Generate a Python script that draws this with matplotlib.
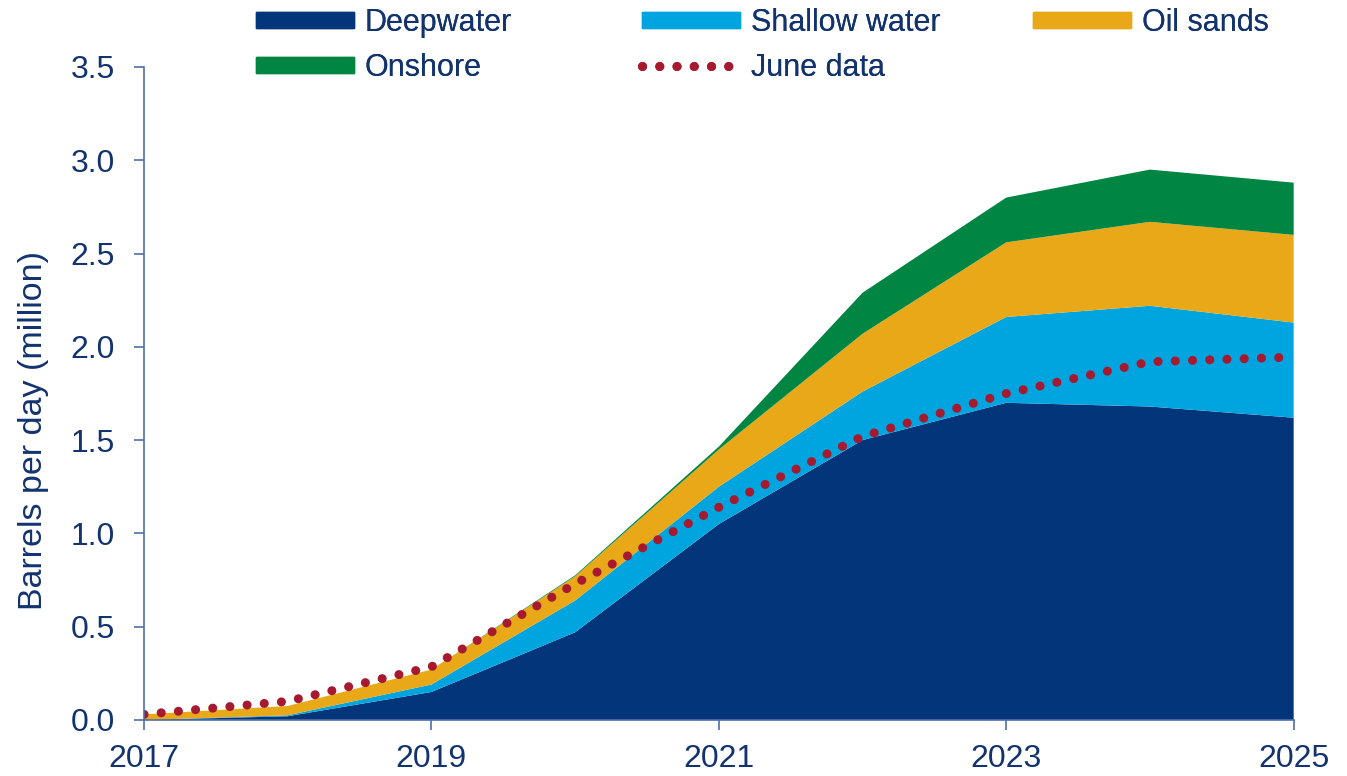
import numpy as np
import matplotlib.pyplot as plt
from matplotlib.patches import Patch
from matplotlib.lines import Line2D

plt.rcParams['font.family'] = ['Liberation Sans', 'DejaVu Sans']

years = [2017, 2018, 2019, 2020, 2021, 2022, 2023, 2024, 2025]
deepwater = [0.0, 0.02, 0.15, 0.47, 1.05, 1.50, 1.70, 1.68, 1.62]
shallow_water = [0.0, 0.005, 0.04, 0.17, 0.20, 0.26, 0.46, 0.54, 0.51]
oil_sands = [0.03, 0.05, 0.08, 0.13, 0.20, 0.31, 0.40, 0.45, 0.47]
onshore = [0.0, 0.0, 0.0, 0.005, 0.015, 0.22, 0.24, 0.28, 0.28]
june_data = [0.03, 0.10, 0.285, 0.73, 1.14, 1.52, 1.75, 1.92, 1.945]

navy = '#03357a'
sky = '#00a5e0'
gold = '#e8a817'
green = '#008542'
red = '#a6192e'
text_col = '#12336e'
axis_col = '#4f6ea8'
dots = (0, (0.01, 1.9))

fig = plt.figure(figsize=(13.47, 7.76), dpi=100)
ax = fig.add_axes([0.1069, 0.0722, 0.8535, 0.8415])

ax.stackplot(years, deepwater, shallow_water, oil_sands, onshore,
             colors=[navy, sky, gold, green], linewidth=0)
ax.plot(years, june_data, color=red, linewidth=6.5, linestyle=dots,
        dash_capstyle='round')

ax.set_xlim(2017, 2025)
ax.set_ylim(0, 3.5)
ax.set_xticks([2017, 2019, 2021, 2023, 2025])
ax.set_yticks(np.arange(0, 3.51, 0.5))
ax.set_yticklabels([f'{v:.1f}' for v in np.arange(0, 3.51, 0.5)])

for s in ['top', 'right']:
    ax.spines[s].set_visible(False)
for s in ['left', 'bottom']:
    ax.spines[s].set_color(axis_col)
    ax.spines[s].set_linewidth(1.2)
ax.tick_params(axis='both', colors=axis_col, labelcolor=text_col,
               labelsize=23, width=1.2)
ax.tick_params(axis='y', length=7.2, pad=14)
ax.tick_params(axis='x', length=7.2, pad=10)
ax.set_ylabel('Barrels per day (million)', fontsize=24.5, color=text_col)
ax.yaxis.set_label_coords(-0.083, 0.4426)

# legend laid out as three separate columns
col1 = [Patch(color=navy), Patch(color=green)]
col2 = [Patch(color=sky),
        Line2D([], [], color=red, linewidth=6.5, linestyle=dots,
               dash_capstyle='round')]
col3 = [Patch(color=gold)]
labels = [['Deepwater', 'Onshore'], ['Shallow water', 'June data'], ['Oil sands']]
xs = [0.1904, 0.4767, 0.767]
for hs, ls, x in zip([col1, col2, col3], labels, xs):
    leg = fig.legend(hs, ls, loc='upper left', bbox_to_anchor=(x, 0.990),
                     frameon=False, fontsize=22, handlelength=3.2,
                     handleheight=0.45, handletextpad=0.35,
                     labelspacing=0.5, borderpad=0, borderaxespad=0)
    for t in leg.get_texts():
        t.set_color(text_col)
    fig.add_artist(leg)

fig.savefig('out.png', dpi=100)
